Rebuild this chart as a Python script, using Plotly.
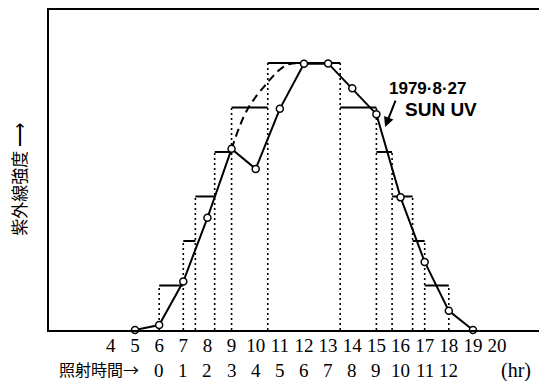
import plotly.graph_objects as go

# --- data (hours of day, relative UV intensity) ---
hours = [5, 6, 7, 8, 9, 10, 11, 12, 13, 14, 15, 16, 17, 18, 19]
uv = [0, 0.11, 1.09, 2.52, 4.07, 3.62, 4.97, 5.98, 5.99, 5.43, 4.85, 2.98, 1.53, 0.43, 0]

dash_hours = [9, 9.64, 10.47, 11.09, 11.5, 12]
dash_uv = [4.07, 4.94, 5.55, 5.89, 5.99, 5.98]

step_edges = [6.0, 7.0, 7.5, 8.3, 9.0, 10.5, 13.5, 15.0, 15.65, 16.5, 17.0, 18.0]
step_levels = [1, 2, 3, 4, 5, 6, 5, 4, 3, 2, 1]

tick_hours = list(range(4, 21))
irr_hours = list(range(6, 19))
irr_labels = [str(h - 6) for h in irr_hours]

# --- build step traces ---
top_x, top_y = [], []
for i, lv in enumerate(step_levels):
    top_x += [step_edges[i], step_edges[i + 1], None]
    top_y += [lv, lv, None]

vx, vy = [], []
for j, e in enumerate(step_edges):
    left = step_levels[j - 1] if j > 0 else 0
    right = step_levels[j] if j < len(step_levels) else 0
    vx += [e, e, None]
    vy += [0, max(left, right), None]

fig = go.Figure()
fig.add_trace(go.Scatter(x=vx, y=vy, mode="lines",
                         line=dict(color="black", width=1.6, dash="2px,3px"),
                         hoverinfo="skip", showlegend=False))
fig.add_trace(go.Scatter(x=top_x, y=top_y, mode="lines",
                         line=dict(color="black", width=2),
                         hoverinfo="skip", showlegend=False))
fig.add_trace(go.Scatter(x=dash_hours, y=dash_uv, mode="lines",
                         line=dict(color="black", width=2, dash="8px,5px", shape="spline"),
                         showlegend=False))
fig.add_trace(go.Scatter(x=hours, y=uv, mode="lines+markers",
                         line=dict(color="black", width=2),
                         marker=dict(symbol="circle", size=7, color="white",
                                     line=dict(color="black", width=1.5)),
                         cliponaxis=False, showlegend=False))

annotations = []
for h, lab in zip(irr_hours, irr_labels):
    annotations.append(dict(x=h, xref="x", y=0, yref="paper", yshift=-40,
                            text=lab, showarrow=False, xanchor="center", yanchor="middle",
                            font=dict(family="Liberation Serif", size=19, color="black")))
annotations += [
    dict(x=(141 - 49) / 490, xref="paper", y=0, yref="paper", text="照射時間→", showarrow=False,
         xanchor="right", yanchor="middle", yshift=-39,
         font=dict(family="Noto Sans CJK JP", size=16, color="black")),
    dict(x=20.8, xref="x", y=0, yref="paper", text="(hr)", showarrow=False,
         xanchor="center", yanchor="middle", yshift=-40,
         font=dict(family="Liberation Serif", size=20, color="black")),
    dict(x=-0.063, xref="paper", y=0.47, yref="paper", text="紫外線強度 ⟶", showarrow=False,
         textangle=-90, xanchor="center", yanchor="middle",
         font=dict(family="Noto Sans CJK JP", size=17, color="black")),
    dict(x=17.14, xref="x", y=5.42, yref="y", text="<b>1979·8·27</b>", showarrow=False,
         xanchor="center", yanchor="middle",
         font=dict(family="Liberation Sans", size=17, color="black")),
    dict(x=17.68, xref="x", y=4.96, yref="y", text="<b>SUN UV</b>", showarrow=False,
         xanchor="center", yanchor="middle",
         font=dict(family="Liberation Sans", size=19, color="black")),
    dict(x=15.36, xref="x", y=4.56, yref="y", text="", showarrow=True,
         ax=11, ay=-28, arrowhead=2, arrowsize=1, arrowwidth=2, arrowcolor="black",
         standoff=0),
]

fig.update_layout(
    width=539, height=381,
    margin=dict(l=49, r=0, t=10, b=51),
    plot_bgcolor="white", paper_bgcolor="white",
    annotations=annotations,
    xaxis=dict(range=[1.437, 21.736], showline=True, mirror=True, linecolor="black",
               linewidth=2, showgrid=False, zeroline=False, ticks="",
               ticklabelstandoff=-3,
               tickvals=tick_hours, ticktext=[str(h) for h in tick_hours],
               tickfont=dict(family="Liberation Serif", size=19, color="black")),
    yaxis=dict(range=[0, 7.19], showline=True, mirror=False, linecolor="black",
               linewidth=2, showgrid=False, zeroline=False, showticklabels=False, ticks=""),
)

fig.write_html("out.html")
